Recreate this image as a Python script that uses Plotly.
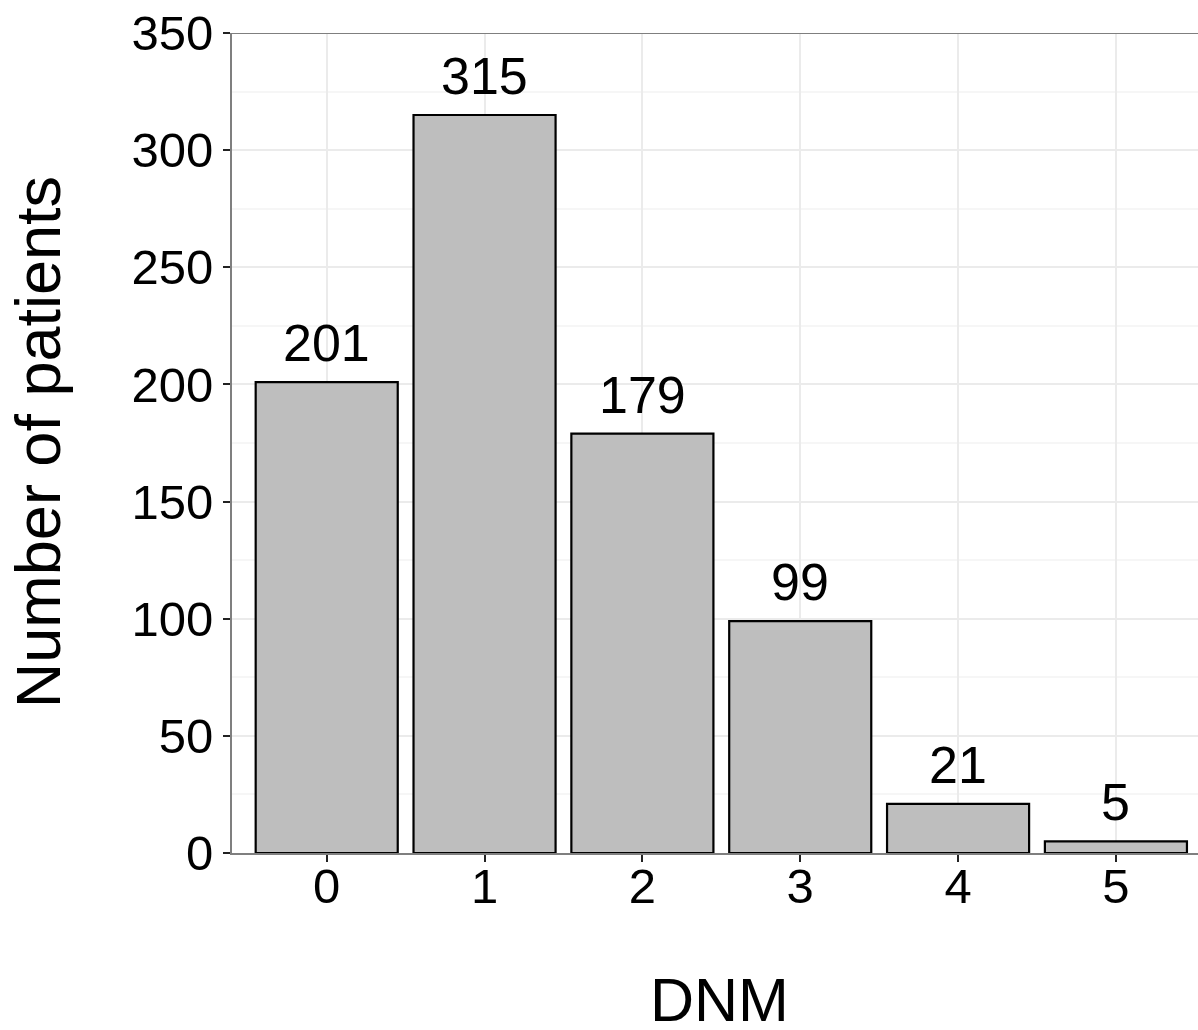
import plotly.graph_objects as go

categories = ["0", "1", "2", "3", "4", "5"]
patients = [201, 315, 179, 99, 21, 5]
y_ticks = [0, 50, 100, 150, 200, 250, 300, 350]
y_minor = [25, 75, 125, 175, 225, 275, 325]

x_pos = list(range(len(categories)))
FONT = "Liberation Sans, Arial"

fig = go.Figure()
fig.add_trace(go.Bar(
    x=x_pos, y=patients, width=0.9,
    marker=dict(color="#BEBEBE", line=dict(color="black", width=2.2)),
    cliponaxis=False,
))

annotations = [
    dict(x=xi, y=v, xref="x", yref="y", text=str(v), showarrow=False,
         yanchor="bottom", xanchor="center", yshift=8,
         font=dict(family=FONT, size=52, color="black"))
    for xi, v in zip(x_pos, patients)
]
annotations.append(dict(x=0.505, y=-0.1795, xref="paper", yref="paper", text="DNM",
                        showarrow=False, xanchor="center", yanchor="middle",
                        font=dict(family=FONT, size=61, color="black")))
annotations.append(dict(x=-0.2008, y=0.501, xref="paper", yref="paper", text="Number of patients",
                        showarrow=False, xanchor="center", yanchor="middle", textangle=-90,
                        font=dict(family=FONT, size=63, color="black")))

fig.update_layout(
    width=1198, height=1030,
    margin=dict(l=232, r=0, t=33, b=177),
    plot_bgcolor="white", paper_bgcolor="white",
    showlegend=False,
    font=dict(family=FONT, color="black"),
    annotations=annotations,
    shapes=[dict(type="line", xref="paper", yref="y", x0=0, x1=1, y0=350, y1=350,
                 line=dict(color="#7F7F7F", width=2), layer="above")],
)
fig.update_xaxes(
    range=[-0.6, 5.52], tickvals=x_pos, ticktext=categories,
    showgrid=True, gridcolor="#EBEBEB", gridwidth=1.5,
    showline=True, linecolor="#7F7F7F", linewidth=2,
    ticks="outside", ticklen=7, tickcolor="#222222", tickwidth=2,
    tickfont=dict(size=49, color="black"), ticklabelstandoff=-18,
    zeroline=False,
)
fig.update_yaxes(
    range=[0, 350], tickvals=y_ticks,
    showgrid=True, gridcolor="#EBEBEB", gridwidth=1.5,
    minor=dict(tickvals=y_minor, showgrid=True, gridcolor="#F6F6F6", gridwidth=1.5, ticks=""),
    showline=True, linecolor="#7F7F7F", linewidth=2,
    ticks="outside", ticklen=7, tickcolor="#222222", tickwidth=2,
    tickfont=dict(size=49, color="black"),
    zeroline=False,
)

fig.write_html("out.html", config={"displayModeBar": False})
with open("out.html", "r", encoding="utf-8") as f:
    html = f.read()
html = html.replace("<head>", "<head><style>html,body{margin:0;padding:0;overflow:hidden;}</style>", 1)
with open("out.html", "w", encoding="utf-8") as f:
    f.write(html)
